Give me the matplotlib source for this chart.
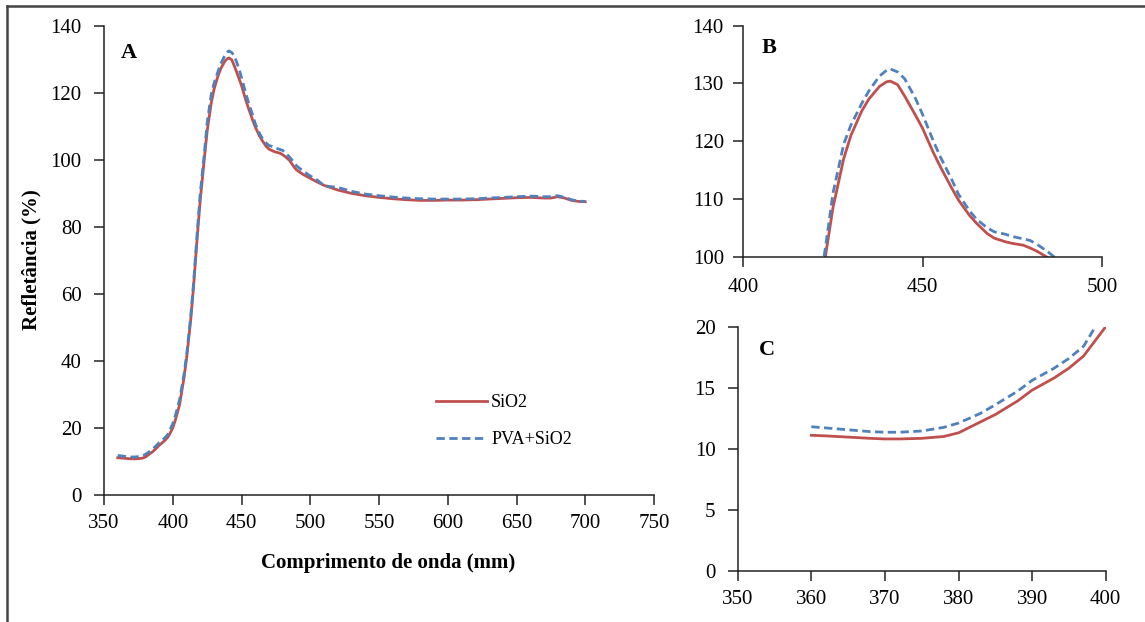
import matplotlib
matplotlib.use("Agg")
import matplotlib.pyplot as plt
from matplotlib.lines import Line2D

plt.rcParams['font.family'] = ['Liberation Serif', 'DejaVu Serif']

wavelength = [360, 362, 365, 368, 370, 372, 375, 378, 380, 383, 385, 388, 390, 393, 395, 397, 399,
              400, 402, 405, 408, 410, 413, 415, 418, 420, 423, 425, 428, 430, 433, 435, 438, 440,
              441, 443, 445, 448, 450, 453, 455, 458, 460, 463, 465, 468, 470, 473, 475, 478, 480,
              482, 485, 488, 490, 495, 500, 505, 510, 515, 520, 530, 540, 550, 560, 570, 580, 590,
              600, 610, 620, 630, 640, 650, 660, 670, 675, 680, 685, 690, 695, 700]

sio2 = [11.1, 11.05, 10.95, 10.85, 10.8, 10.8, 10.85, 11.0, 11.3, 12.2, 12.8, 13.9, 14.8, 15.8, 16.6, 17.6, 19.2,
        20.0, 22.5, 27.0, 34.5, 40.5, 52.0, 61.5, 78.0, 88.0, 100.5, 108.5, 117.0, 121.0, 125.2, 127.3, 129.5, 130.3,
        130.4, 129.8, 127.8, 124.5, 122.2, 118.0, 115.5, 112.0, 109.8, 107.2, 105.8, 104.0, 103.2, 102.6, 102.3, 102.0, 101.5,
        100.9, 99.8, 98.0, 97.0, 95.6, 94.5, 93.4, 92.4, 91.7, 91.0, 90.0, 89.3, 88.8, 88.4, 88.1, 87.9, 87.9,
        88.0, 88.0, 88.1, 88.3, 88.5, 88.7, 88.8, 88.6, 88.6, 89.0, 88.6, 87.9, 87.6, 87.5]

pva_sio2 = [11.8, 11.7, 11.55, 11.4, 11.35, 11.35, 11.45, 11.75, 12.1, 12.9, 13.6, 14.7, 15.6, 16.6, 17.4, 18.4, 20.4,
            21.3, 23.8, 28.5, 35.5, 41.5, 53.0, 62.5, 79.5, 90.0, 102.0, 111.0, 119.5, 122.8, 126.5, 128.7, 131.3, 132.3,
            132.5, 132.0, 130.8, 127.4, 124.6, 120.0, 117.2, 113.5, 110.8, 108.0, 106.5, 105.0, 104.3, 103.9, 103.5, 103.1, 102.8,
            102.1, 100.8, 99.3, 98.2, 96.6, 95.2, 94.0, 92.3, 92.0, 91.8, 90.6, 89.8, 89.3, 88.9, 88.6, 88.4, 88.3,
            88.3, 88.3, 88.4, 88.6, 88.8, 89.0, 89.2, 89.0, 89.0, 89.3, 88.8, 88.1, 87.7, 87.6]

labels = ["SiO2", "PVA+SiO2"]
red = "#C0504D"
blue = "#4F81BD"

W, H = 1145, 622
fig = plt.figure(figsize=(W / 100, H / 100), dpi=100)

def fr(l, r, t, b):
    return [l / W, 1 - b / H, (r - l) / W, (b - t) / H]

axA = fig.add_axes(fr(104, 654, 25.8, 495))
axB = fig.add_axes(fr(743.3, 1102, 25.7, 256.7))
axC = fig.add_axes(fr(737.7, 1105.7, 326.7, 570.7))

for ax in (axA, axB, axC):
    ax.plot(wavelength, sio2, color=red, lw=2.0, label=labels[0])
    ax.plot(wavelength, pva_sio2, color=blue, lw=2.0, ls=(0, (3, 1.6)), label=labels[1])
    for s in ("top", "right"):
        ax.spines[s].set_visible(False)
    for s in ("left", "bottom"):
        ax.spines[s].set_linewidth(1.1)
        ax.spines[s].set_color("#222222")
    ax.tick_params(direction="out", length=7, width=1.1, labelsize=15, colors="#222222",
                   labelcolor="black")
    ax.tick_params(axis="y", pad=9)
    ax.tick_params(axis="x", pad=7)

axA.set_xlim(350, 750)
axA.set_ylim(0, 140)
axA.set_xticks(range(350, 751, 50))
axA.set_yticks(range(0, 141, 20))

axB.set_xlim(400, 500)
axB.set_ylim(100, 140)
axB.set_xticks([400, 450, 500])
axB.set_yticks(range(100, 141, 10))
axB.tick_params(axis="y", pad=7)
axB.tick_params(axis="x", pad=8)

axC.set_xlim(350, 400)
axC.set_ylim(0, 20)
axC.set_xticks(range(350, 401, 10))
axC.set_yticks(range(0, 21, 5))
axC.tick_params(axis="y", pad=9)
axC.tick_params(axis="x", pad=7)

axA.text(0.03, 0.942, "A", transform=axA.transAxes, ha="left", va="center",
         fontsize=16, fontweight="bold")
axB.text(0.052, 0.903, "B", transform=axB.transAxes, ha="left", va="center",
         fontsize=16, fontweight="bold")
axC.text(0.058, 0.905, "C", transform=axC.transAxes, ha="left", va="center",
         fontsize=16, fontweight="bold")

fig.text(31 / W, 1 - 260 / H, "Refletância (%)", rotation=90, ha="center", va="center",
         fontsize=15, fontweight="bold")
fig.text(388 / W, 1 - 563 / H, "Comprimento de onda (mm)", ha="center", va="center",
         fontsize=15, fontweight="bold")

axA.legend(loc="center left", bbox_to_anchor=(436 / W, 1 - 421 / H), bbox_transform=fig.transFigure,
           frameon=False, fontsize=13, handlelength=2.8, handletextpad=0.25, labelspacing=1.1,
           borderpad=0, borderaxespad=0)

fig.add_artist(Line2D([7 / W, 1], [1 - 6 / H, 1 - 6 / H], transform=fig.transFigure,
                      color="#444444", lw=1.8))
fig.add_artist(Line2D([7 / W, 7 / W], [0, 1 - 6 / H], transform=fig.transFigure,
                      color="#444444", lw=1.8))

fig.savefig("out.png", dpi=100)
